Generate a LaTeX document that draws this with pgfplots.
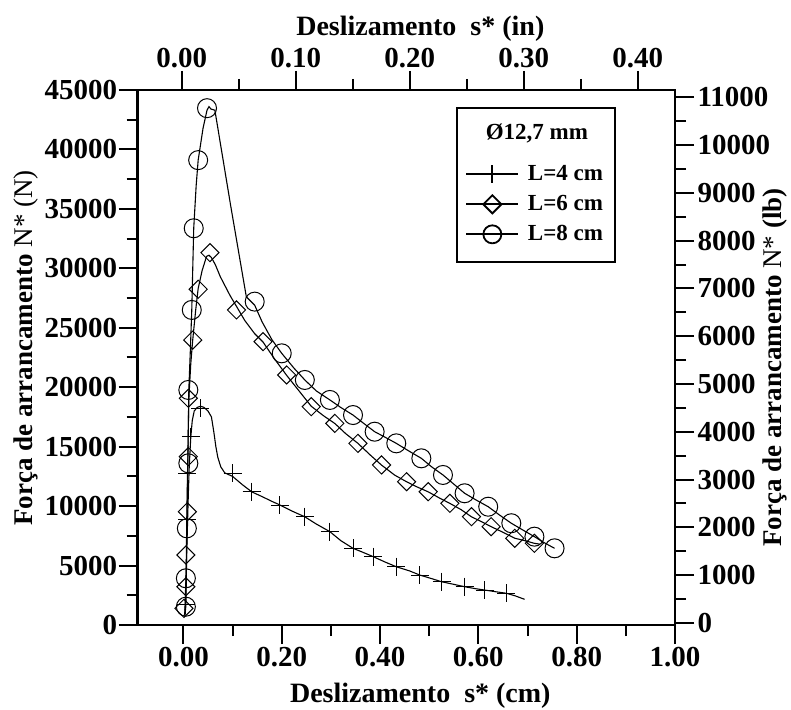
\documentclass[border=0pt]{standalone}
\usepackage{fontspec}
\setmainfont{Liberation Serif}
\usepackage{pgfplots}
\pgfplotsset{compat=1.18}
\begin{document}
\begin{tikzpicture}
\path[use as bounding box] (-137.7pt,-84pt) rectangle (653.3pt,625pt);
\pgfplotsset{
  common/.style={
    width=537.3pt, height=535pt, scale only axis,
    axis line style={line width=2.6pt},
    tick style={line width=2pt, black},
    major tick length=19pt, minor tick length=11pt,
    tick align=outside,
    scaled ticks=false,
    tick label style={font=\fontsize{29}{29}\selectfont\bfseries},
    /pgf/number format/assume math mode=true,
  }
}
\begin{axis}[common,
  xmin=-0.093, xmax=1.0, ymin=0, ymax=45000,
  xtick={0,0.2,0.4,0.6,0.8,1.0},
  minor xtick={0.1,0.3,0.5,0.7,0.9},
  ytick={0,5000,...,45000}, minor ytick={2500,7500,...,42500},
  xtick pos=left, ytick pos=left,
  xticklabel style={/pgf/number format/fixed, /pgf/number format/fixed zerofill, /pgf/number format/precision=2},
  yticklabel style={/pgf/number format/1000 sep={}, xshift=2pt},
  xlabel={Deslizamento\ \ s* (cm)},
  ylabel={Força de arrancamento {\mdseries N* (N)}},
  every axis x label/.style={at={(axis description cs:0.526,-0.145)}, anchor=base, font=\fontsize{28}{28}\selectfont\bfseries},
  every axis y label/.style={at={(axis description cs:-0.1967,0.518)}, anchor=base, rotate=90, font=\fontsize{27}{27}\selectfont\bfseries},
  legend style={at={(rel axis cs:0.610,0.862)}, anchor=north west, draw=none, fill=none,
    inner sep=0pt, outer sep=0pt, font=\fontsize{23}{23}\selectfont\bfseries, row sep=9pt,
    nodes={inner sep=0pt, text height=17pt, text depth=4pt},
    /tikz/every odd column/.append style={column sep=8.7pt}},
  legend cell align=left,
  legend image code/.code={\draw[mark repeat=2,mark phase=2,#1] plot coordinates {(0pt,0pt) (26pt,0pt) (52pt,0pt)};},
]
% L = 4 cm
\addplot[black, line width=1.1pt, forget plot] coordinates {
(0.003,1200)(0.004,2500)(0.006,5000)(0.008,8000)(0.01,11000)(0.012,13500)(0.015,15800)
(0.018,17200)(0.022,18000)(0.028,18300)(0.035,18400)(0.042,18300)(0.05,18000)(0.057,17500)
(0.062,16200)(0.066,15000)(0.07,14100)(0.076,13300)(0.084,12800)(0.1,12500)(0.12,11800)
(0.139,11200)(0.16,10800)(0.18,10400)(0.196,10100)(0.22,9600)(0.247,9100)(0.27,8500)
(0.298,7850)(0.32,7100)(0.345,6450)(0.366,6100)(0.386,5750)(0.41,5300)(0.433,4900)
(0.46,4550)(0.481,4200)(0.505,3900)(0.525,3640)(0.55,3420)(0.572,3220)(0.595,3050)
(0.613,2940)(0.635,2800)(0.657,2670)(0.675,2450)(0.694,2160)};
\addplot[black, only marks, mark=+, mark size=9pt, mark options={line width=1pt}, forget plot] coordinates {
(0.005,1700)(0.008,8900)(0.008,12760)(0.015,15840)(0.034,18230)(0.1,12760)(0.139,11210)
(0.196,10090)(0.247,9110)(0.298,7850)(0.345,6450)(0.386,5745)(0.433,4900)(0.481,4200)
(0.525,3640)(0.572,3220)(0.613,2940)(0.657,2670)};
% L = 6 cm
\addplot[black, line width=1.1pt, forget plot] coordinates {
(0.002,800)(0.004,1600)(0.005,3200)(0.006,5900)(0.007,9500)(0.009,14100)(0.011,19000)
(0.015,22000)(0.019,24000)(0.025,26500)(0.03,28300)(0.038,29800)(0.047,31000)(0.052,31100)
(0.057,30900)(0.065,30300)(0.075,29300)(0.085,28500)(0.095,27700)(0.108,26800)(0.125,25600)
(0.145,24500)(0.162,23800)(0.185,22400)(0.21,21000)(0.235,19700)(0.26,18400)(0.285,17600)
(0.308,16950)(0.33,16100)(0.355,15280)(0.38,14300)(0.403,13450)(0.43,12600)(0.454,12050)
(0.476,11600)(0.498,11200)(0.52,10700)(0.542,10230)(0.565,9700)(0.586,9100)(0.606,8700)
(0.626,8270)(0.65,7800)(0.674,7300)(0.694,7100)(0.714,6870)(0.725,6800)};
\addplot[black, only marks, mark=square, mark size=6.4pt, mark options={rotate=45, line width=1pt}, forget plot] coordinates {
(0.001,1400)(0.005,3220)(0.005,5890)(0.008,9530)(0.01,14160)(0.01,19070)(0.019,23970)
(0.03,28240)(0.054,31320)(0.108,26500)(0.162,23830)(0.21,21030)(0.26,18360)(0.308,16960)
(0.355,15280)(0.403,13460)(0.454,12050)(0.498,11210)(0.542,10235)(0.586,9110)(0.626,8270)
(0.674,7290)(0.714,6870)};
% L = 8 cm
\addplot[black, line width=1.1pt, forget plot] coordinates {
(0.003,800)(0.005,1600)(0.006,3900)(0.007,8100)(0.009,13500)(0.011,19800)(0.014,23000)
(0.017,26500)(0.019,30000)(0.021,33400)(0.026,37000)(0.03,39100)(0.04,41800)(0.048,43300)
(0.052,43600)(0.056,43400)(0.064,43300)(0.096,35300)(0.128,27600)(0.145,26900)(0.16,25500)
(0.18,24000)(0.2,22850)(0.225,21600)(0.247,20610)(0.27,19700)(0.298,18930)(0.32,18300)
(0.345,17660)(0.367,16950)(0.389,16260)(0.41,15800)(0.433,15280)(0.46,14600)(0.484,14020)
(0.505,13300)(0.528,12620)(0.55,11850)(0.572,11080)(0.596,10500)(0.62,9950)(0.643,9250)
(0.667,8560)(0.69,8000)(0.714,7430)(0.735,6900)(0.755,6450)};
\addplot[black, only marks, mark=o, mark size=9.5pt, mark options={line width=1pt}, forget plot] coordinates {
(0.005,1540)(0.005,3930)(0.007,8130)(0.01,13600)(0.01,19770)(0.017,26500)(0.021,33370)
(0.03,39100)(0.048,43470)(0.145,27200)(0.2,22850)(0.247,20610)(0.298,18930)(0.345,17660)
(0.389,16260)(0.433,15280)(0.484,14020)(0.528,12620)(0.572,11080)(0.620,9950)(0.667,8560)
(0.714,7430)(0.755,6450)};
\addlegendimage{black, line width=1.8pt, mark=+, mark size=9pt}
\addlegendentry{L=4 cm}
\addlegendimage{black, line width=1.8pt, mark=square, mark size=6.4pt, mark options={rotate=45}}
\addlegendentry{L=6 cm}
\addlegendimage{black, line width=1.8pt, mark=o, mark size=9pt}
\addlegendentry{L=8 cm}
\draw[line width=2.2pt] (rel axis cs:0.594,0.966) rectangle (rel axis cs:0.889,0.678);
\node[font=\fontsize{23}{23}\selectfont\bfseries] at (rel axis cs:0.743,0.918) {Ø12,7 mm};
\end{axis}
\begin{axis}[common,
  xmin=-0.0387, xmax=0.4326, ymin=-45, ymax=11155,
  xtick={0,0.1,0.2,0.3,0.4}, minor xtick={0.05,0.15,0.25,0.35},
  ytick={0,1000,...,11000}, minor ytick={500,1500,...,10500},
  xtick pos=right, xticklabel pos=right, ytick pos=right, yticklabel pos=right,
  xticklabel style={/pgf/number format/fixed, /pgf/number format/fixed zerofill, /pgf/number format/precision=2},
  yticklabel style={/pgf/number format/1000 sep={}},
  xlabel={Deslizamento\ \ s* (in)},
  ylabel={Força de arrancamento {\mdseries N*} (lb)},
  every axis x label/.style={at={(axis description cs:0.526,1.1015)}, anchor=base, font=\fontsize{28}{28}\selectfont\bfseries},
  every axis y label/.style={at={(axis description cs:1.1975,0.481)}, anchor=base, rotate=90, font=\fontsize{27}{27}\selectfont\bfseries},
]
\end{axis}
\end{tikzpicture}
\end{document}
